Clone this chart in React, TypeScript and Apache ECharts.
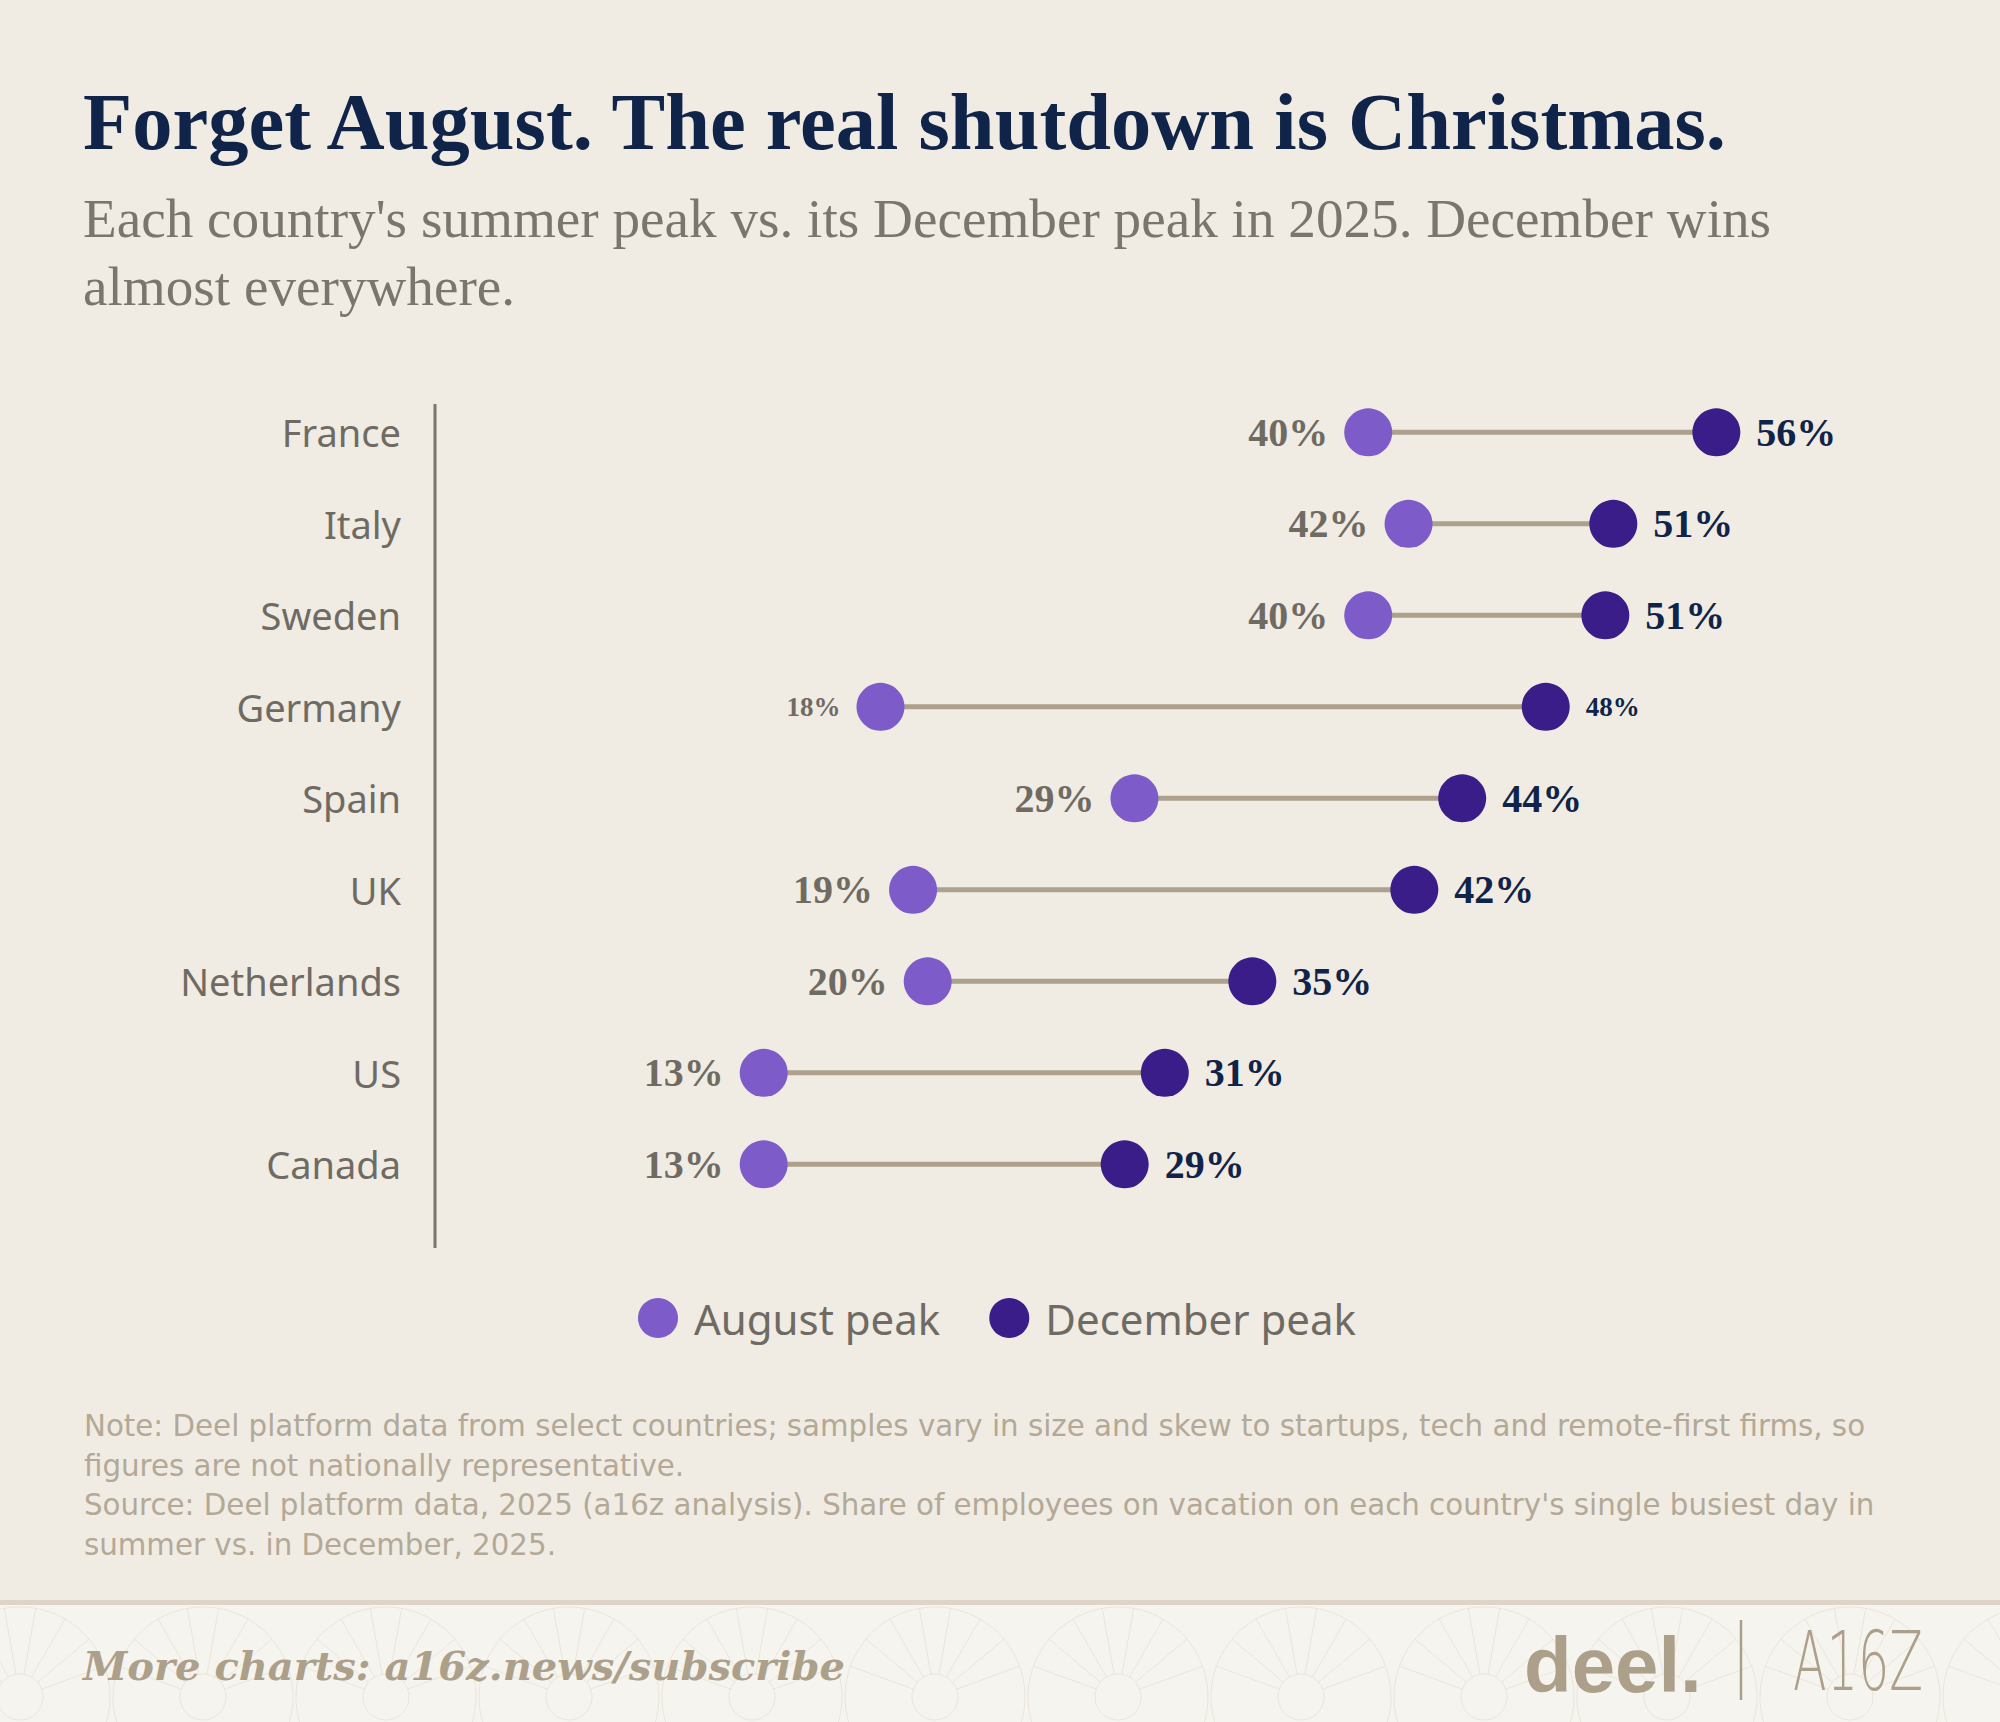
import React, { useEffect, useRef } from "react";
import * as echarts from "echarts";

const countries = ["France", "Italy", "Sweden", "Germany", "Spain", "UK", "Netherlands", "US", "Canada"];
const augustPeak = [39.92, 41.74, 39.92, 17.91, 29.37, 19.38, 20.04, 12.64, 12.64];
const decemberPeak = [55.63, 50.98, 50.62, 47.93, 44.16, 42.0, 34.69, 30.74, 28.93];
const smallLabelCountries = ["Germany"];

const title = "Forget August. The real shutdown is Christmas.";
const subtitleLines = [
  "Each country's summer peak vs. its December peak in 2025. December wins",
  "almost everywhere.",
];
const noteLines = [
  "Note: Deel platform data from select countries; samples vary in size and skew to startups, tech and remote-first firms, so",
  "figures are not nationally representative.",
  "Source: Deel platform data, 2025 (a16z analysis). Share of employees on vacation on each country's single busiest day in",
  "summer vs. in December, 2025.",
];

const BG = "#f0ece4";
const AUG = "#7d5bc8";
const DEC = "#3a1d88";
const GRAY = "#6f6b63";
const NAVY = "#0f2448";
const TAN = "#ada08a";

function footerPattern(): any[] {
  const els: any[] = [];
  const stroke = "#ebe6dc";
  const cy = 1697;
  for (let k = -1; k < 12; k++) {
    const cx = 20 + k * 183;
    els.push({ type: "circle", silent: true, shape: { cx, cy, r: 23 }, style: { fill: "none", stroke, lineWidth: 1 } });
    els.push({ type: "circle", silent: true, shape: { cx, cy, r: 90 }, style: { fill: "none", stroke, lineWidth: 1 } });
    for (let a = 200; a <= 340; a += 20) {
      const t = (a * Math.PI) / 180;
      els.push({
        type: "line",
        silent: true,
        shape: { x1: cx + 23 * Math.cos(t), y1: cy + 23 * Math.sin(t), x2: cx + 90 * Math.cos(t), y2: cy + 90 * Math.sin(t) },
        style: { stroke, lineWidth: 1 },
      });
    }
  }
  return els;
}

export default function App() {
  const ref = useRef<HTMLDivElement>(null);
  useEffect(() => {
    document.body.style.margin = "0";
    const chart = echarts.init(ref.current!, null, { renderer: "svg" });
    const labelBase = {
      show: true,
      fontFamily: "Liberation Serif",
      fontWeight: "bold" as const,
      fontSize: 40,
      distance: 16,
    };
    const mk = (vals: number[]) =>
      vals.map((v, i) => {
        const item: any = { value: [v, countries[i]] };
        if (smallLabelCountries.includes(countries[i])) item.label = { fontSize: 27 };
        return item;
      });

    const graphic: any[] = [
      { type: "rect", silent: true, shape: { x: 0, y: 1605, width: 2000, height: 117 }, style: { fill: "#f6f4ef" } },
      {
        type: "group",
        silent: true,
        clipPath: { type: "rect", shape: { x: 0, y: 1605, width: 2000, height: 117 } },
        children: footerPattern(),
      },
      { type: "rect", silent: true, shape: { x: 0, y: 1600, width: 2000, height: 5 }, style: { fill: "#ddd6c8" } },
      {
        type: "text",
        x: 83,
        y: 121,
        style: { text: title, fontFamily: "Liberation Serif", fontWeight: "bold", fontSize: 80.5, fill: NAVY, textVerticalAlign: "middle" },
      },
      ...subtitleLines.map((t, i) => ({
        type: "text",
        x: 83,
        y: 218 + i * 68,
        style: { text: t, fontFamily: "Liberation Serif", fontSize: 55.2, fill: "#7a766e", textVerticalAlign: "middle" },
      })),
      { type: "line", shape: { x1: 435, y1: 404, x2: 435, y2: 1248 }, style: { stroke: "#7b766c", lineWidth: 3 } },
      ...noteLines.map((t, i) => ({
        type: "text",
        x: 84,
        y: 1426 + i * 39.5,
        style: { text: t, fontFamily: "DejaVu Sans", fontSize: 29.3, fill: "#b3a996", textVerticalAlign: "middle" },
      })),
      {
        type: "text",
        x: 83,
        y: 1665,
        style: { text: "More charts: a16z.news/subscribe", fontFamily: "DejaVu Serif", fontWeight: "bold", fontStyle: "italic", fontSize: 40, fill: TAN, textVerticalAlign: "middle" },
      },
      {
        type: "text",
        x: 1524,
        y: 1665,
        style: { text: "deel.", fontFamily: "Liberation Sans", fontWeight: "bold", fontSize: 78, fill: TAN, textVerticalAlign: "middle" },
      },
      { type: "line", shape: { x1: 1741, y1: 1620, x2: 1741, y2: 1700 }, style: { stroke: TAN, lineWidth: 2.5 } },
      {
        type: "text",
        x: 1793,
        y: 1662,
        scaleX: 0.6,
        style: { text: "A16Z", fontFamily: "DejaVu Sans", fontWeight: 200, fontSize: 82, fill: TAN, textVerticalAlign: "middle" },
      },
    ];

    chart.setOption({
      animation: false,
      backgroundColor: BG,
      grid: { left: 483.6, right: 186.8, top: 386.6, bottom: 511.9 },
      xAxis: { type: "value", min: 0, max: 60, show: false },
      yAxis: {
        type: "category",
        data: countries,
        inverse: true,
        axisLine: { show: false },
        axisTick: { show: false },
        splitLine: { show: false },
        axisLabel: { fontFamily: "Noto Sans", fontSize: 38, color: GRAY, margin: 82.6 },
      },
      legend: {
        data: ["August peak", "December peak"],
        left: 633,
        top: 1292,
        icon: "circle",
        itemWidth: 40,
        itemHeight: 40,
        itemGap: 49,
        textStyle: { fontFamily: "Noto Sans", fontSize: 42, color: GRAY, padding: [0, 0, 0, 11] },
      },
      graphic,
      series: [
        {
          type: "custom",
          silent: true,
          z: 1,
          renderItem: (params: any, api: any) => {
            const idx = api.value(2);
            const s = api.coord([api.value(0), idx]);
            const e = api.coord([api.value(1), idx]);
            return {
              type: "line",
              shape: { x1: s[0], y1: s[1], x2: e[0], y2: e[1] },
              style: { stroke: "#ada18b", lineWidth: 5 },
            };
          },
          encode: { x: [0, 1], y: 2 },
          data: countries.map((c, i) => [augustPeak[i], decemberPeak[i], i]),
        },
        {
          name: "August peak",
          type: "scatter",
          z: 3,
          symbolSize: 48,
          itemStyle: { color: AUG, opacity: 1 },
          label: { ...labelBase, position: "left", color: GRAY, formatter: (p: any) => Math.round(p.value[0]) + "%" },
          data: mk(augustPeak),
        },
        {
          name: "December peak",
          type: "scatter",
          z: 3,
          symbolSize: 48,
          itemStyle: { color: DEC, opacity: 1 },
          label: { ...labelBase, position: "right", color: NAVY, formatter: (p: any) => Math.round(p.value[0]) + "%" },
          data: mk(decemberPeak),
        },
      ],
    });
    return () => chart.dispose();
  }, []);
  return <div ref={ref} style={{ position: "absolute", left: 0, top: 0, width: 2000, height: 1722, background: BG }} />;
}
